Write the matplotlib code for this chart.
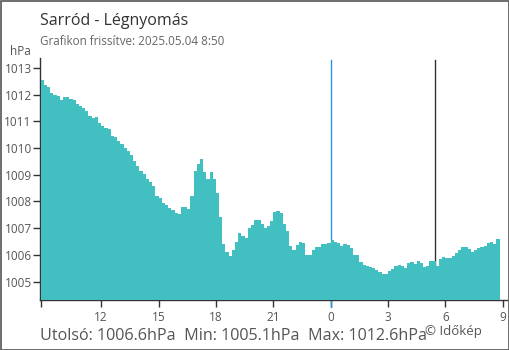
import numpy as np
import matplotlib
matplotlib.use("Agg")
import matplotlib.pyplot as plt
from matplotlib.patches import Rectangle

plt.rcParams['font.family'] = ['Open Sans', 'DejaVu Sans']

# ---- data (10-minute pressure readings, hPa) from 05.03 8:50 to 05.04 8:50 ----
start_hour = 8 + 50 / 60          # hours since 05.03 00:00
step_hours = 10 / 60
pressure = [
    1012.55, 1012.35, 1012.3, 1012.05, 1012.0, 1011.95, 1011.8, 1011.9, 1011.9, 1011.85,
    1011.8, 1011.63, 1011.56, 1011.48, 1011.4, 1011.2, 1011.12, 1011.15, 1010.95, 1010.82,
    1010.75, 1010.7, 1010.46, 1010.42, 1010.28, 1010.15, 1010.0, 1009.88, 1009.72, 1009.5,
    1009.34, 1009.15, 1009.04, 1008.83, 1008.72, 1008.58, 1008.22, 1008.12, 1007.95, 1007.88,
    1007.76, 1007.67, 1007.58, 1007.53, 1007.8, 1007.8, 1007.7, 1008.2, 1009.15, 1009.4,
    1009.58, 1009.1, 1008.85, 1009.1, 1008.85, 1008.3, 1007.4, 1006.42, 1006.12, 1005.96,
    1006.2, 1006.5, 1006.8, 1006.71, 1006.62, 1007.0, 1007.1, 1007.31, 1007.3, 1007.15,
    1007.0, 1007.08, 1007.25, 1007.6, 1007.65, 1007.55, 1007.15, 1006.9, 1006.35, 1006.18,
    1006.37, 1006.5, 1006.44, 1006.0, 1006.0, 1006.19, 1006.3, 1006.28, 1006.4, 1006.42,
    1006.45, 1006.56, 1006.5, 1006.46, 1006.34, 1006.4, 1006.38, 1006.25, 1006.0, 1005.98,
    1005.75, 1005.61, 1005.6, 1005.53, 1005.5, 1005.44, 1005.34, 1005.28, 1005.28, 1005.4,
    1005.47, 1005.6, 1005.63, 1005.6, 1005.5, 1005.69, 1005.73, 1005.65, 1005.77, 1005.69,
    1005.56, 1005.6, 1005.78, 1005.77, 1005.6, 1005.85, 1005.92, 1005.87, 1005.9, 1005.97,
    1006.06, 1006.19, 1006.3, 1006.31, 1006.22, 1006.1, 1006.2, 1006.25, 1006.3, 1006.35,
    1006.45, 1006.5, 1006.4, 1006.6,
]
x_ticks = [start_hour, 12, 15, 18, 21, 24, 27, 30, 33]
x_tick_labels = ['', '12', '15', '18', '21', '0', '3', '6', '9']
y_ticks = [1005, 1006, 1007, 1008, 1009, 1010, 1011, 1012, 1013]
midnight_hour = 24
sunrise_hour = 24 + 5 + 28 / 60

title = "Sarród - Légnyomás"
subtitle = "Grafikon frissítve: 2025.05.04 8:50"
summary = "Utolsó: 1006.6hPa  Min: 1005.1hPa  Max: 1012.6hPa"
credit = "© Időkép"

# ---- figure ----
W, H = 510, 350
fig = plt.figure(figsize=(W / 100, H / 100), dpi=100)
fig.patch.set_facecolor('white')

ax_left, ax_right, ax_top, ax_bottom = 40, 507, 58, 300
ax = fig.add_axes([ax_left / W, 1 - ax_bottom / H, (ax_right - ax_left) / W, (ax_bottom - ax_top) / H])

ymin, ymax = 1004.31, 1013.37
xmin, xmax = 8.80, 33.22
ax.set_xlim(xmin, xmax)
ax.set_ylim(ymin, ymax)

edges = start_hour + step_hours * np.arange(len(pressure) + 1)
ax.stairs(pressure, edges, fill=True, baseline=ymin, color='#42c0c1', zorder=3, linewidth=0)

# vertical markers (behind the fill)
ax.plot([midnight_hour, midnight_hour], [ymin - 0.26, ymax - 0.08], color='#2a95e0', lw=1.0,
        zorder=2, clip_on=False)
ax.plot([sunrise_hour, sunrise_hour], [ymin, ymax - 0.08], color='#333333', lw=1.0, zorder=2)

for s in ['top', 'right']:
    ax.spines[s].set_visible(False)
for s in ['left', 'bottom']:
    ax.spines[s].set_color('#333333')
    ax.spines[s].set_linewidth(1.0)

ax.set_xticks(x_ticks)
ax.set_xticklabels(x_tick_labels)
ax.set_yticks(y_ticks)
ax.tick_params(axis='both', colors='#333333', labelcolor='#555555', labelsize=8.5,
               length=5, width=1.0, direction='out')
ax.tick_params(axis='x', pad=3)
ax.tick_params(axis='y', pad=1)

# texts
fig.text(40 / W, 1 - 25 / H, title, fontsize=11.5, color='#333333', va='baseline', ha='left')
fig.text(40 / W, 1 - 45 / H, subtitle, fontsize=8.4, color='#666666', va='baseline', ha='left')
fig.text(10 / W, 1 - 55 / H, "hPa", fontsize=8.5, color='#555555', va='baseline', ha='left')
fig.text(40 / W, 1 - 340 / H, summary, fontsize=11.6, color='#555555', va='baseline', ha='left')
fig.text(425 / W, 1 - 335 / H, credit, fontsize=9.5, color='#555555', va='baseline', ha='left')

# outer border
fig.patches.append(Rectangle((0.5 / W, 0.5 / H), 1 - 1.5 / W, 1 - 1.5 / H, transform=fig.transFigure,
                             fill=False, edgecolor='#555555', linewidth=1.2))

fig.savefig('out.png', dpi=100, facecolor='white')
